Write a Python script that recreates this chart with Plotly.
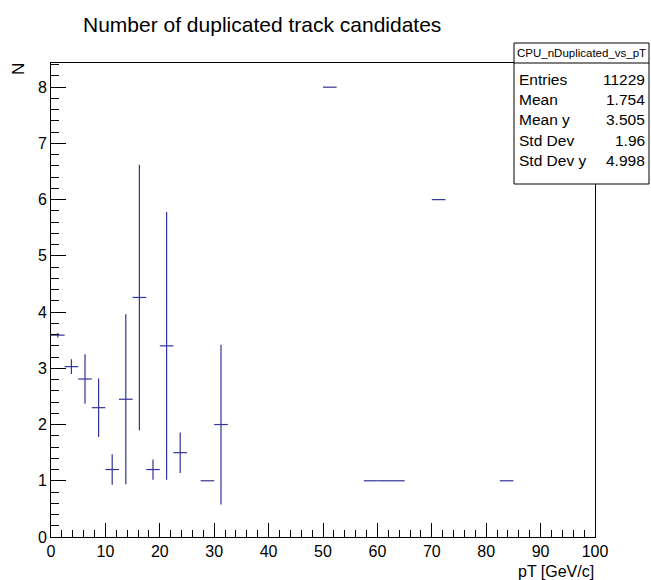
import plotly.graph_objects as go

# Data (TProfile bins, bin width 2.5 GeV/c)
pt_centers = [1.25, 3.75, 6.25, 8.75, 11.25, 13.75, 16.25, 18.75, 21.25, 23.75,
              28.75, 31.25, 51.25, 58.75, 61.25, 63.75, 71.25, 83.75]
n_mean = [3.59, 3.03, 2.81, 2.30, 1.20, 2.45, 4.26, 1.20, 3.40, 1.50,
          1.00, 2.00, 8.00, 1.00, 1.00, 1.00, 6.00, 1.00]
n_err = [0.04, 0.13, 0.44, 0.52, 0.27, 1.51, 2.36, 0.18, 2.38, 0.36,
         0.0, 1.42, 0.0, 0.0, 0.0, 0.0, 0.0, 0.0]
half_bin = [1.25] * len(pt_centers)

stats_name = "CPU_nDuplicated_vs_pT"
stats_labels = ["Entries", "Mean", "Mean y", "Std Dev", "Std Dev y"]
stats_values = ["11229", "1.754", "3.505", "1.96", "4.998"]

FONT = "Liberation Sans, Arial, sans-serif"
COL = "#333399"

W, H = 651, 580
L, R, T, B = 51, 56, 63, 43
pw, ph = W - L - R, H - T - B


def px2x(px):
    return (px - L) / pw


def py2y(py):
    return (H - B - py) / ph


fig = go.Figure()
fig.add_trace(go.Scatter(
    x=pt_centers, y=n_mean, mode="markers",
    marker=dict(size=1, color=COL, opacity=0),
    error_x=dict(type="data", array=half_bin, width=0, thickness=1.2, color=COL),
    error_y=dict(type="data", array=n_err, width=0, thickness=1.2, color=COL),
    showlegend=False, hoverinfo="x+y",
))

fig.update_layout(
    width=W, height=H,
    margin=dict(l=L, r=R, t=T, b=B),
    paper_bgcolor="white", plot_bgcolor="white",
    font=dict(family=FONT, size=16, color="black"),
    showlegend=False,
)
fig.update_xaxes(
    range=[0, 100], dtick=10, tick0=0,
    showgrid=False, zeroline=False,
    showline=True, linecolor="black", linewidth=1, mirror=True,
    ticks="inside", ticklen=14, tickcolor="black",
    minor=dict(ticks="inside", ticklen=7, dtick=2, tickcolor="black", showgrid=False),
    tickfont=dict(family=FONT, size=16),
)
fig.update_yaxes(
    range=[0, 8.43], dtick=1, tick0=0,
    showgrid=False, zeroline=False,
    showline=True, linecolor="black", linewidth=1, mirror=True,
    ticks="inside", ticklen=15, tickcolor="black",
    minor=dict(ticks="inside", ticklen=8, dtick=0.2, tickcolor="black", showgrid=False),
    tickfont=dict(family=FONT, size=16),
)

# Stats box
bx0, bx1, by0, by1 = px2x(514), px2x(649), py2y(184), py2y(43)
fig.add_shape(type="rect", xref="paper", yref="paper",
              x0=bx0, x1=bx1, y0=by0, y1=by1,
              line=dict(color="black", width=1), fillcolor="white", layer="above")
fig.add_shape(type="line", xref="paper", yref="paper",
              x0=bx0, x1=bx1, y0=py2y(63), y1=py2y(63),
              line=dict(color="black", width=1), layer="above")

annotations = [
    dict(text="Number of duplicated track candidates", x=px2x(262), y=py2y(24),
         xref="paper", yref="paper", xanchor="center", yanchor="middle",
         showarrow=False, font=dict(family=FONT, size=21)),
    dict(text=stats_name, x=px2x(581.5), y=py2y(53), xref="paper", yref="paper",
         xanchor="center", yanchor="middle", showarrow=False,
         font=dict(family=FONT, size=11.5)),
]
row_y = [79, 99.5, 120, 140, 160.5]
for lab, val, yy in zip(stats_labels, stats_values, row_y):
    annotations.append(dict(text=lab, x=px2x(517), y=py2y(yy), xref="paper", yref="paper",
                            xanchor="left", yanchor="middle", showarrow=False,
                            font=dict(family=FONT, size=15.5)))
    annotations.append(dict(text=val, x=px2x(647), y=py2y(yy), xref="paper", yref="paper",
                            xanchor="right", yanchor="middle", showarrow=False,
                            font=dict(family=FONT, size=15.5)))

annotations.append(dict(text="pT [GeV/c]", x=px2x(596), y=py2y(571), xref="paper", yref="paper",
                        xanchor="right", yanchor="middle", showarrow=False,
                        font=dict(family=FONT, size=16)))
annotations.append(dict(text="N", x=px2x(19), y=py2y(69), xref="paper", yref="paper",
                        xanchor="center", yanchor="middle", showarrow=False, textangle=-90,
                        font=dict(family=FONT, size=17)))
fig.update_layout(annotations=annotations)

fig.write_html("out.html")
